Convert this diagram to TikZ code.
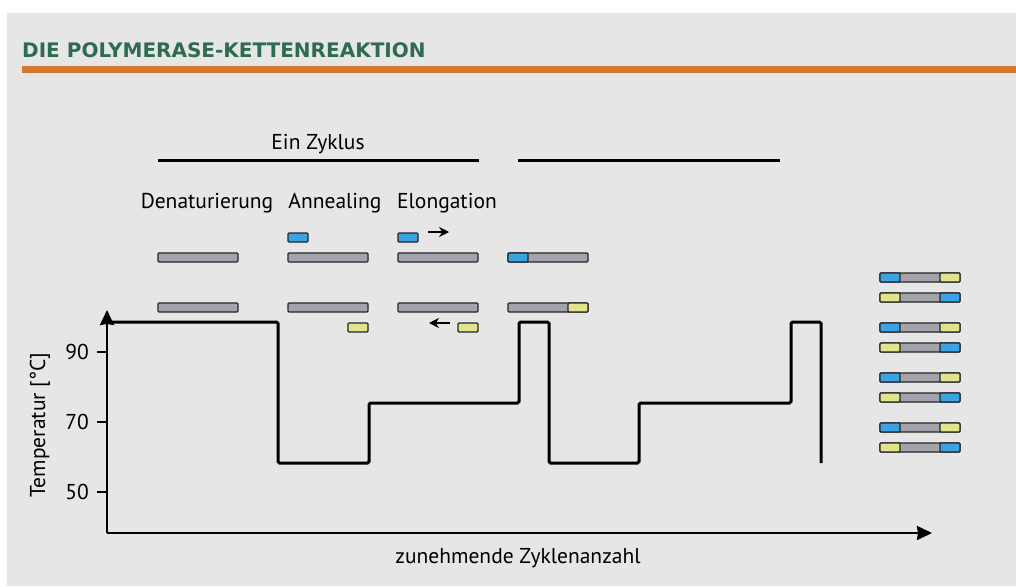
\documentclass[tikz,border=0pt]{standalone}
\usepackage{fontspec}
\setmainfont{PT Sans}
\newfontfamily\titelfont{DejaVu Sans}
\usetikzlibrary{arrows.meta}
\definecolor{hgrau}{HTML}{E6E6E6}
\definecolor{titelgruen}{HTML}{2F6B4F}
\definecolor{balken}{HTML}{D27A34}
\definecolor{strgrau}{HTML}{A3A3AB}
\definecolor{primerblau}{HTML}{3BA3E3}
\definecolor{primergelb}{HTML}{E3E38C}
\tikzset{
    strang/.style={draw=black!85, line width=1.2pt, rounded corners=1pt},
    kurve/.style={line width=3pt, rounded corners=1.5pt},
    beschr/.style={font=\fontsize{21.5}{25}\selectfont, inner sep=0pt}
}
\begin{document}
\begin{tikzpicture}[x=1pt,y=-1pt,>={Stealth[length=15pt,width=14pt,inset=1pt]}]
\useasboundingbox (0,0) rectangle (1016,586);
\fill[hgrau] (7,13) rectangle (1016,586);
% Kopfzeile
\node[anchor=base west, inner sep=0pt, text=titelgruen,
    font=\titelfont\fontsize{20}{23}\selectfont\bfseries] (titel) at (22,57) {DIE POLYMERASE-KETTENREAKTION};
\fill[balken] (22,66) rectangle (1016,73);

% Zyklus
\node[beschr, anchor=base] (zyklus) at (318,149) {Ein Zyklus};
\draw[line width=3pt] (158,160) -- (479,160);
\draw[line width=3pt] (518,160) -- (780,160);
\foreach \x/\t/\n in {207/Denaturierung/den,335/Annealing/ann,447/Elongation/elo}
{
    \node[beschr, anchor=base] (\n) at (\x,208) {\t};
}

% Stränge
\foreach \x in {158,288,398,508}
{
    \draw[strang, fill=strgrau] (\x,253) rectangle +(80,9);
    \draw[strang, fill=strgrau] (\x,303) rectangle +(80,9);
}
\draw[strang, fill=primerblau] (508,253) rectangle +(20,9);
\draw[strang, fill=primergelb] (568,303) rectangle +(20,9);
\foreach \x in {288,398}
{
    \draw[strang, fill=primerblau] (\x,233) rectangle +(20,9);
    \draw[strang, fill=primergelb] (\x+60,323) rectangle +(20,9);
}
\draw[->, line width=2pt, >={Stealth[length=10pt,width=10pt]}] (428,232) -- (449,232);
\draw[->, line width=2pt, >={Stealth[length=10pt,width=10pt]}] (450,323) -- (429,323);

\foreach \y/\l/\r in {273/primerblau/primergelb,293/primergelb/primerblau,
    323/primerblau/primergelb,343/primergelb/primerblau,
    373/primerblau/primergelb,393/primergelb/primerblau,
    423/primerblau/primergelb,443/primergelb/primerblau}
{
    \draw[strang, fill=strgrau] (880,\y) rectangle +(80,9);
    \draw[strang, fill=\l] (880,\y) rectangle +(20,9);
    \draw[strang, fill=\r] (940,\y) rectangle +(20,9);
}

% Achsen
\coordinate (ursprung) at (107,533);
\coordinate (yspitze) at (107,310);
\coordinate (xspitze) at (932,533);
\draw[->, line width=2.5pt] (ursprung) -- (yspitze);
\draw[->, line width=2.5pt] (ursprung) -- (xspitze);
\foreach \y/\t in {352/90,422/70,492/50}
{
    \draw[line width=2pt] (97,\y) -- (107,\y);
    \node[beschr, anchor=east] (t\t) at (89,\y) {\t};
}
\node[beschr, rotate=90] (tempachse) at (40,425) {Temperatur [°C]};
\node[beschr] (zyklenachse) at (518,558) {zunehmende Zyklenanzahl};

% Temperaturverlauf
\draw[kurve] (107,322) -- (278,322) -- (278,463) -- (369,463) -- (369,403)
    -- (519,403) -- (519,322) -- (549,322) -- (549,463) -- (639,463)
    -- (639,403) -- (791,403) -- (791,322) -- (821,322) -- (821,463);
\end{tikzpicture}
\end{document}
